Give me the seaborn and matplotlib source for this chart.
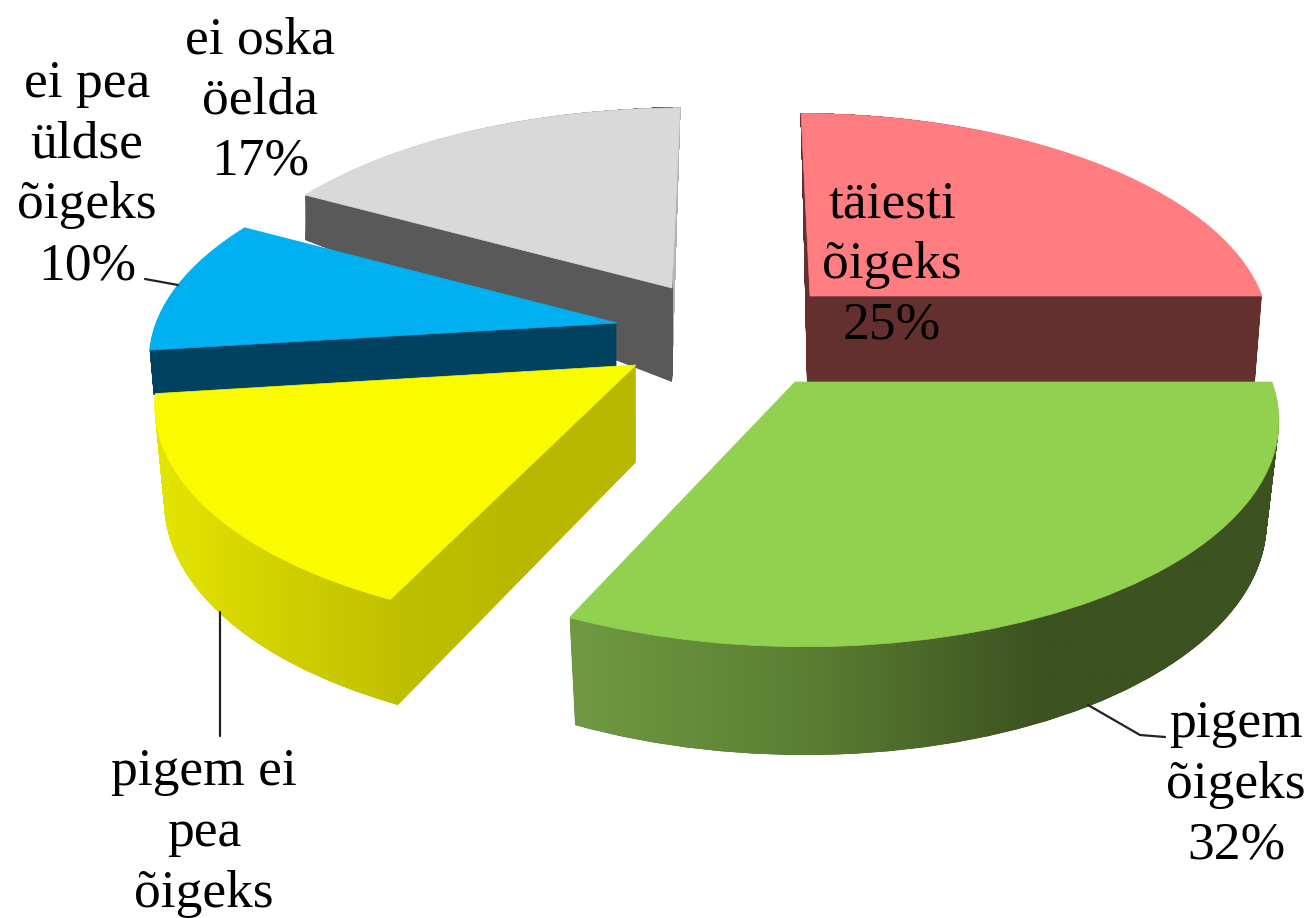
import numpy as np
import matplotlib
matplotlib.use("Agg")
import matplotlib.pyplot as plt
import seaborn as sns
from matplotlib.patches import PathPatch
from matplotlib.path import Path
from matplotlib.transforms import Transform

# chart values
slices = ["täiesti õigeks", "pigem õigeks", "pigem ei pea õigeks", "ei pea üldse õigeks", "ei oska öelda"]
shares = [25, 32, 16, 10, 17]
top_colors = ["#FF7C80", "#92D050", "#FAFA00", "#00B0F0", "#D9D9D9"]
wall_colors = ["#632F2F", "#3C5220", "#B8B800", "#00425F", "#595959"]

sns.set_theme(style="white")
plt.rcParams['font.family'] = ['Liberation Serif', 'DejaVu Sans']

# (cx, cy, rx, ry, shear) of the top face and the bottom face of every slice, in pixels
geometry = [
    ((810, 296, 452, 210, 0.049), (807, 382, 448, 309, 0.022)),
    ((795, 382, 477, 225, 0.04), (795, 482, 465, 232, 0.037)),
    ((636, 365, 474, 224, -0.052), (636, 462, 465, 232, -0.037)),
    ((617, 323, 461, 212, -0.046), (617, 368, 457, 212, -0.046)),
    ((672, 288, 454, 207, -0.044), (672, 382, 454, 316, -0.03)),
]
perspective = 0.15
draw_order = [4, 3, 0, 2, 1]

# wall gradients, left to right
gradients = {
    1: (570, 1280, ["#6F9A42", "#5A7F33", "#3C5220", "#3C5220"]),
    2: (150, 640, ["#E6E600", "#D2D200", "#C0C000", "#B8B800", "#B8B800"]),
    4: (673, 684, ["#B5B5B5", "#B5B5B5"]),
}


class Place(Transform):
    # unit pie -> pixels, with the slight perspective of the 3d pie
    input_dims = 2
    output_dims = 2

    def __init__(self, g):
        super().__init__()
        self.g = g

    def transform_non_affine(self, values):
        cx, cy, rx, ry, shear = self.g
        values = np.asarray(values)
        x, down = values[:, 0], -values[:, 1]
        w = 1 - perspective * down
        yy = ry * down / w
        return np.column_stack([cx + rx * x / w + shear * yy, cy + yy])


fig, ax = plt.subplots(figsize=(13.14, 9.18), dpi=100)
fig.subplots_adjust(0, 0, 1, 1)

start = 90
starts = []
for s in shares:
    starts.append(start)
    start -= s * 3.6

for n, i in enumerate(draw_order):
    # unit pie wedge for this slice
    wedges, _ = ax.pie([shares[i], 100 - shares[i]], startangle=starts[i], counterclock=False,
                       radius=1, colors=[top_colors[i], "none"])
    wedges[1].remove()
    wedge = wedges[0]
    unit = wedge.get_patch_transform().transform_path(wedge.get_path())

    # wall: stack of copies between bottom face and top face
    g_top, g_bot = geometry[i]
    layers = []
    for t in np.linspace(1, 0.02, 120):
        g = tuple(a * (1 - t) + b * t for a, b in zip(g_top, g_bot))
        layers.append(Place(g).transform_path(unit))
    wall = PathPatch(Path.make_compound_path(*layers), facecolor=wall_colors[i], lw=0, zorder=10 * n + 1)
    ax.add_patch(wall)
    if i in gradients:
        x0, x1, cols = gradients[i]
        cmap = sns.blend_palette(cols, as_cmap=True)
        im = ax.imshow(np.linspace(0, 1, 256)[None, :], cmap=cmap, aspect="auto",
                       extent=(x0, x1, 918, 0), zorder=10 * n + 2)
        im.set_clip_path(wall)

    wedge.set_transform(Place(g_top) + ax.transData)
    wedge.set_zorder(10 * n + 3)
    wedge.set_edgecolor(top_colors[i])
    wedge.set_linewidth(0.5)

ax.set_aspect("auto")
ax.set_xlim(0, 1314)
ax.set_ylim(918, 0)
ax.axis("off")

# leader lines
ax.plot([145, 178], [279, 285], color="#222222", lw=1.6, zorder=100)
ax.plot([220, 220], [612, 736], color="#222222", lw=1.6, zorder=100)
ax.plot([1088, 1140, 1165], [705, 735, 737], color="#222222", lw=1.6, zorder=100)

# labels
lab = dict(fontsize=38.5, color="black", ha="center", va="center", linespacing=1.35, zorder=101)
ax.text(892, 265, "täiesti\nõigeks\n25%", **lab)
ax.text(1236, 785, "pigem\nõigeks\n32%", **lab)
ax.text(204, 833, "pigem ei\npea\nõigeks", **lab)
ax.text(87, 175, "ei pea\nüldse\nõigeks\n10%", **lab)
ax.text(260, 101, "ei oska\nöelda\n17%", **lab)

fig.savefig("out.png", dpi=100)
